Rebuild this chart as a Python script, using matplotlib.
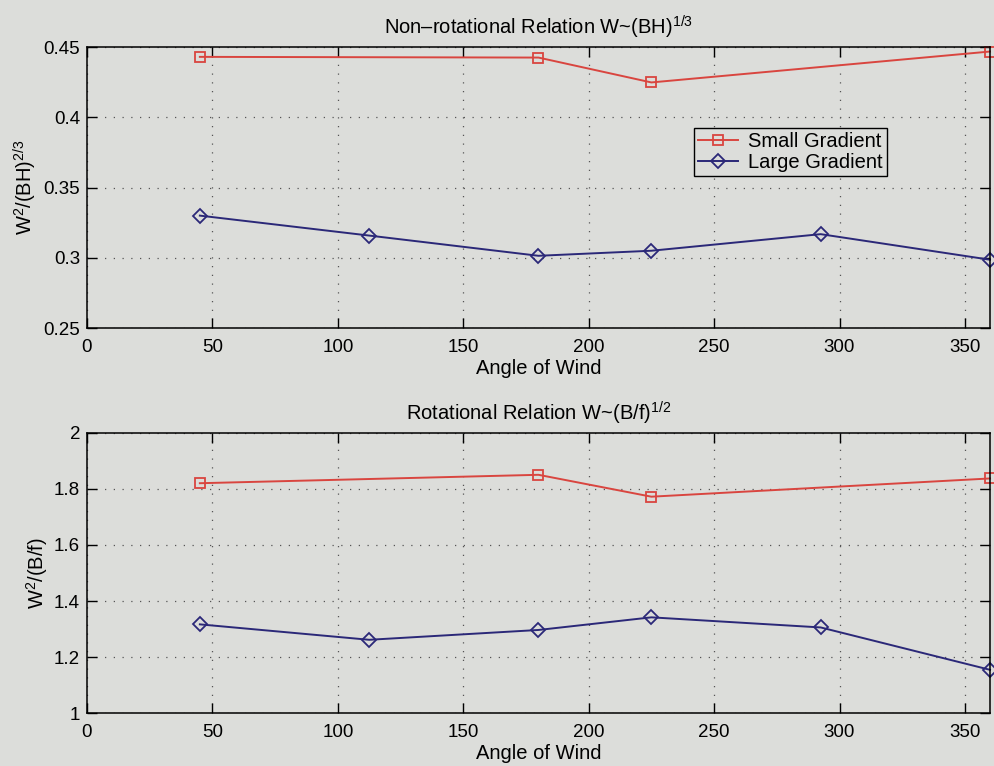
import matplotlib
matplotlib.use("Agg")
import matplotlib.pyplot as plt

# Wind angles (degrees) and normalised plume-width ratios
angles_small = [45, 180, 225, 360]
angles_large = [45, 112.5, 180, 225, 292.5, 360]

nonrot_small = [0.443, 0.4425, 0.4248, 0.4468]
nonrot_large = [0.330, 0.3158, 0.3014, 0.3050, 0.3168, 0.2986]

rot_small = [1.820, 1.850, 1.772, 1.837]
rot_large = [1.317, 1.262, 1.297, 1.342, 1.306, 1.155]

x_ticks = [0, 50, 100, 150, 200, 250, 300, 350]
x_tick_labels = ["0", "50", "100", "150", "200", "250", "300", "350"]
top_y_ticks = [0.25, 0.30, 0.35, 0.40, 0.45]
top_y_tick_labels = ["0.25", "0.3", "0.35", "0.4", "0.45"]
bot_y_ticks = [1.0, 1.2, 1.4, 1.6, 1.8, 2.0]
bot_y_tick_labels = ["1", "1.2", "1.4", "1.6", "1.8", "2"]

series_labels = ["Small Gradient", "Large Gradient"]

plt.rcParams["font.family"] = ["Liberation Sans", "DejaVu Sans"]
plt.rcParams["mathtext.fontset"] = "custom"
plt.rcParams["mathtext.rm"] = "Liberation Sans"
plt.rcParams["mathtext.it"] = "Liberation Sans"

bg = "#dcddda"
red = "#d9453f"
navy = "#2b2878"
label_fs = 14.5
tick_fs = 13.5

fig = plt.figure(figsize=(9.95, 7.66), dpi=100, facecolor=bg)
ax1 = fig.add_axes([0.0874, 0.5718, 0.9076, 0.3668])
ax2 = fig.add_axes([0.0874, 0.0688, 0.9076, 0.3663])


def style_axes(ax, yticks, ylabels, ylim):
    ax.set_facecolor(bg)
    ax.set_xlim(0, 360)
    ax.set_ylim(*ylim)
    ax.set_xticks(x_ticks)
    ax.set_xticklabels(x_tick_labels)
    ax.set_yticks(yticks)
    ax.set_yticklabels(ylabels)
    ax.tick_params(direction="in", length=7, width=1, top=True, right=True,
                   labelsize=tick_fs, colors="black")
    ax.tick_params(axis="x", pad=8)
    ax.tick_params(axis="y", pad=5)
    for s in ax.spines.values():
        s.set_linewidth(1.1)
        s.set_color("black")
    ax.grid(True, linestyle=(0, (1, 6)), color="#555555", linewidth=0.9)
    ax.set_axisbelow(True)
    ax.set_xlabel("Angle of Wind", fontsize=label_fs, labelpad=2)


style_axes(ax1, top_y_ticks, top_y_tick_labels, (0.25, 0.45))
style_axes(ax2, bot_y_ticks, bot_y_tick_labels, (1.0, 2.0))

mk = dict(markerfacecolor="none", linewidth=1.4, clip_on=False)
ax1.plot(angles_small, nonrot_small, color=red, marker="s", markersize=7,
         markeredgewidth=1.3, label=series_labels[0], **mk)
ax1.plot(angles_large, nonrot_large, color=navy, marker="D", markersize=7,
         markeredgewidth=1.3, label=series_labels[1], **mk)
ax2.plot(angles_small, rot_small, color=red, marker="s", markersize=7,
         markeredgewidth=1.3, label=series_labels[0], **mk)
ax2.plot(angles_large, rot_large, color=navy, marker="D", markersize=7,
         markeredgewidth=1.3, label=series_labels[1], **mk)

ax1.set_title("Non–rotational Relation W~(BH)$^{1/3}$", fontsize=label_fs, pad=9)
ax2.set_title("Rotational Relation W~(B/f)$^{1/2}$", fontsize=label_fs, pad=9)
ax1.set_ylabel("W$^{2}$/(BH)$^{2/3}$", fontsize=label_fs, labelpad=3)
ax2.set_ylabel("W$^{2}$/(B/f)", fontsize=label_fs, labelpad=3)

leg = ax1.legend(loc="upper left", bbox_to_anchor=(0.672, 0.712), fontsize=label_fs,
                 frameon=True, fancybox=False, edgecolor="black",
                 facecolor=bg, framealpha=1, borderpad=0.2, labelspacing=0.1,
                 handlelength=2.0, handletextpad=0.5, borderaxespad=0)
leg.get_frame().set_linewidth(1.0)

fig.savefig("out.png", dpi=100, facecolor=bg)
